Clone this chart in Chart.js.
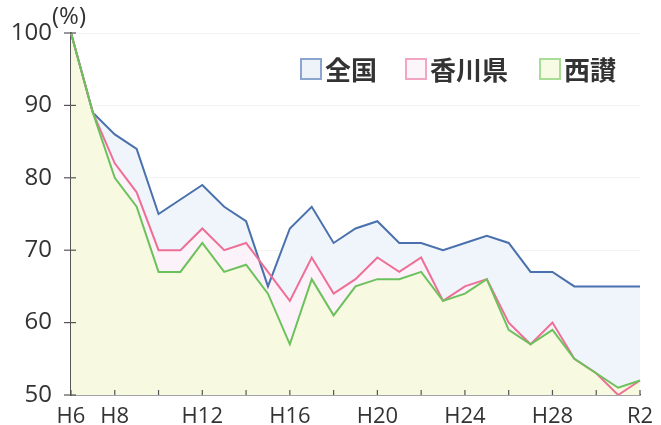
<!DOCTYPE html>
<html lang="ja">
<head>
<meta charset="utf-8">
<script src="https://cdn.jsdelivr.net/npm/chart.js@4"></script>
<style>
  html, body { margin: 0; padding: 0; background: #fff; }
  #wrap { position: relative; width: 661px; height: 425px; }
  #unit { position: absolute; left: 52px; top: -2px; font: 24px "Open Sans", sans-serif; color: #333; }
  .lg { position: absolute; top: 50px; display: flex; align-items: center;
        font: bold 26px "Noto Sans CJK JP", sans-serif; color: #333; }
  .lg i { display: inline-block; width: 18px; height: 18px; border: 2px solid; margin-right: 3px; }
</style>
</head>
<body>
<div id="wrap">
  <canvas id="chart" width="661" height="425"></canvas>
  <div id="unit">(%)</div>
  <div class="lg" style="left:300px"><i style="border-color:#8aa6cf;background:#eef3fa"></i>全国</div>
  <div class="lg" style="left:405px"><i style="border-color:#f2a6c3;background:#fcf5fa"></i>香川県</div>
  <div class="lg" style="left:539px"><i style="border-color:#a8dd98;background:#f7fbe3"></i>西讃</div>
</div>
<script>
const years = ["H6","H7","H8","H9","H10","H11","H12","H13","H14","H15","H16","H17","H18","H19",
  "H20","H21","H22","H23","H24","H25","H26","H27","H28","H29","H30","R1","R2"];
const xTickLabels = ["H6","H8","H12","H16","H20","H24","H28","R2"];
const yTicks = [50, 60, 70, 80, 90, 100];

const zenkoku = [100,89,86,84,75,77,79,76,74,65,73,76,71,73,74,71,71,70,71,72,71,67,67,65,65,65,65];
const kagawa  = [100,89,82,78,70,70,73,70,71,67,63,69,64,66,69,67,69,63,65,66,60,57,60,55,53,50,52];
const seisan  = [100,89,80,76,67,67,71,67,68,64,57,66,61,65,66,66,67,63,64,66,59,57,59,55,53,51,52];

// tick marks: y ticks cross the axis, x ticks every 2 years pointing up
const tickMarks = {
  id: "tickMarks",
  afterDraw(chart) {
    const { ctx, chartArea, scales } = chart;
    ctx.save();
    ctx.strokeStyle = "#555";
    ctx.lineWidth = 1.2;
    yTicks.forEach(v => {
      const y = scales.y.getPixelForValue(v);
      ctx.beginPath();
      ctx.moveTo(chartArea.left - 7, y);
      ctx.lineTo(chartArea.left + 5, y);
      ctx.stroke();
    });
    years.forEach((yr, i) => {
      if (i % 2 !== 0) return;
      const x = scales.x.getPixelForValue(i);
      ctx.beginPath();
      ctx.moveTo(x, chartArea.bottom);
      ctx.lineTo(x, chartArea.bottom - 5);
      ctx.stroke();
    });
    ctx.restore();
  }
};

new Chart(document.getElementById("chart"), {
  type: "line",
  data: {
    labels: years,
    datasets: [
      {
        label: "全国",
        data: zenkoku,
        borderColor: "#4a70ad",
        backgroundColor: "#eff5fb",
        borderWidth: 2,
        fill: "start",
        pointRadius: 0,
        tension: 0,
        order: 2
      },
      {
        label: "香川県",
        data: kagawa,
        borderColor: "#ee6f96",
        backgroundColor: "#fbf3f9",
        borderWidth: 2,
        fill: "start",
        pointRadius: 0,
        tension: 0,
        order: 1
      },
      {
        label: "西讃",
        data: seisan,
        borderColor: "#6cc15d",
        backgroundColor: "#f7fae1",
        borderWidth: 2,
        fill: "start",
        pointRadius: 0,
        tension: 0,
        order: 0
      }
    ]
  },
  options: {
    responsive: false,
    animation: false,
    layout: { padding: { left: 0, right: 21, top: 33, bottom: 0 } },
    plugins: {
      legend: { display: false },
      tooltip: { enabled: false },
      filler: { drawTime: "beforeDatasetsDraw" }
    },
    scales: {
      x: {
        type: "category",
        offset: false,
        afterFit: s => { s.height = 30; },
        border: { color: "#555", width: 1.5 },
        grid: { display: false },
        ticks: {
          autoSkip: false,
          maxRotation: 0,
          padding: 1,
          color: "#333",
          font: { family: "'Open Sans', sans-serif", size: 22 },
          callback: (v, i) => xTickLabels.includes(years[i]) ? years[i] : ""
        }
      },
      y: {
        min: 50,
        max: 100,
        afterFit: s => { s.width = 71; },
        border: { color: "#555", width: 1.5 },
        grid: { color: "#f3f3f3", drawTicks: true, tickLength: 17, tickColor: "rgba(0,0,0,0)" },
        ticks: {
          stepSize: 10,
          padding: 2,
          color: "#333",
          font: { family: "'Open Sans', sans-serif", size: 24 }
        }
      }
    }
  },
  plugins: [tickMarks]
});
</script>
</body>
</html>
